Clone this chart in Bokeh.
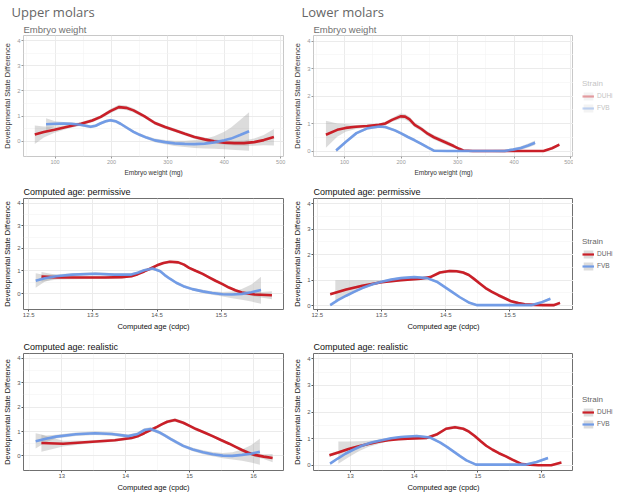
from bokeh.plotting import figure
from bokeh.models import (Range1d, FixedTicker, Title, Legend, LegendItem)
from bokeh.layouts import row, column
from bokeh.embed import file_html
from bokeh.resources import INLINE

# ---------------- data ----------------
STRAINS = ["DUHi", "FVB"]
Y_TICKS = [0, 1, 2, 3, 4]
Y_MINOR = [0.5, 1.5, 2.5, 3.5]
W_TICKS = [100, 200, 300, 400, 500]
W_MINOR = [50, 150, 250, 350, 450]
P_TICKS = [12.5, 13.5, 14.5, 15.5]
P_MINOR = [13.0, 14.0, 15.0, 16.0]
R_TICKS = [13, 14, 15, 16]
R_MINOR = [12.5, 13.5, 14.5, 15.5]

# Upper molars - embryo weight
A_red_x = [64, 80, 99, 120, 146, 166, 181, 198, 213, 226, 239, 258, 277, 295, 312, 330, 347, 365, 382, 400, 418, 435, 453, 470, 488]
A_red_y = [0.27, 0.37, 0.46, 0.57, 0.70, 0.83, 0.97, 1.2, 1.36, 1.33, 1.23, 1.0, 0.73, 0.57, 0.44, 0.3, 0.17, 0.08, 0.0, -0.05, -0.07, -0.07, -0.03, 0.05, 0.17]
A_red_hi = [0.63, 0.59, 0.58, 0.65, 0.77, 0.90, 1.04, 1.28, 1.45, 1.42, 1.31, 1.07, 0.80, 0.64, 0.51, 0.37, 0.24, 0.15, 0.08, 0.03, 0.02, 0.03, 0.11, 0.25, 0.49]
A_red_lo = [-0.1, 0.15, 0.34, 0.49, 0.63, 0.76, 0.9, 1.12, 1.27, 1.24, 1.15, 0.93, 0.66, 0.5, 0.37, 0.23, 0.1, 0.01, -0.08, -0.13, -0.16, -0.17, -0.17, -0.15, -0.16]
A_blue_x = [84, 100, 115, 128, 145, 163, 172, 181, 190, 198, 207, 216, 228, 239, 250, 262, 277, 295, 312, 330, 347, 365, 382, 400, 412, 428, 444]
A_blue_y = [0.68, 0.70, 0.71, 0.70, 0.66, 0.58, 0.62, 0.72, 0.80, 0.84, 0.80, 0.70, 0.53, 0.38, 0.26, 0.15, 0.04, -0.03, -0.08, -0.1, -0.11, -0.09, -0.04, 0.04, 0.11, 0.25, 0.40]
A_blue_hi = [0.92, 0.8, 0.77, 0.76, 0.72, 0.64, 0.68, 0.78, 0.86, 0.90, 0.86, 0.76, 0.59, 0.44, 0.32, 0.21, 0.11, 0.05, 0.02, 0.02, 0.05, 0.1, 0.2, 0.38, 0.55, 0.85, 1.16]
A_blue_lo = [0.42, 0.6, 0.65, 0.64, 0.6, 0.52, 0.56, 0.66, 0.74, 0.78, 0.74, 0.64, 0.47, 0.32, 0.2, 0.09, -0.03, -0.11, -0.18, -0.22, -0.26, -0.28, -0.29, -0.31, -0.33, -0.35, -0.37]

# Lower molars - embryo weight
B_red_x = [67, 87, 102, 120, 140, 161, 172, 184, 199, 207, 215, 224, 236, 247, 258, 270, 282, 293, 303, 310, 327, 360, 400, 430, 452, 467, 480]
B_red_y = [0.59, 0.77, 0.84, 0.88, 0.91, 0.95, 1.0, 1.13, 1.26, 1.25, 1.15, 0.95, 0.8, 0.63, 0.5, 0.39, 0.28, 0.18, 0.08, 0.02, 0.0, 0.0, 0.0, 0.0, 0.0, 0.1, 0.23]
B_red_hi = [1.1, 1.0, 0.98, 0.95, 0.96, 1.0, 1.06, 1.2, 1.36, 1.35, 1.25, 1.04, 0.88, 0.71, 0.58, 0.47, 0.36, 0.25, 0.13, 0.05, 0.03, 0.03, 0.03, 0.03, 0.03, 0.14, 0.28]
B_red_lo = [0.12, 0.52, 0.7, 0.8, 0.86, 0.9, 0.94, 1.06, 1.16, 1.15, 1.05, 0.86, 0.72, 0.55, 0.42, 0.31, 0.2, 0.11, 0.03, -0.01, -0.03, -0.03, -0.03, -0.03, -0.03, 0.06, 0.18]
B_blue_x = [85, 102, 121, 141, 161, 172, 189, 200, 212, 224, 235, 247, 258, 281, 320, 360, 383, 398, 412, 425, 437]
B_blue_y = [0.02, 0.33, 0.65, 0.83, 0.89, 0.87, 0.75, 0.64, 0.51, 0.39, 0.27, 0.13, 0.01, 0.0, 0.0, 0.0, 0.0, 0.05, 0.11, 0.2, 0.3]
B_blue_hi = [0.08, 0.38, 0.7, 0.88, 0.94, 0.92, 0.8, 0.69, 0.56, 0.44, 0.32, 0.18, 0.06, 0.04, 0.04, 0.04, 0.05, 0.1, 0.17, 0.27, 0.38]
B_blue_lo = [-0.04, 0.28, 0.6, 0.78, 0.84, 0.82, 0.7, 0.59, 0.46, 0.34, 0.22, 0.08, -0.04, -0.04, -0.04, -0.04, -0.05, 0.0, 0.05, 0.13, 0.22]

# Upper molars - computed age: permissive
C_red_x = [12.70, 12.95, 13.18, 13.45, 13.69, 13.95, 14.10, 14.20, 14.30, 14.40, 14.50, 14.60, 14.70, 14.83, 14.92, 15.0, 15.10, 15.21, 15.31, 15.41, 15.52, 15.62, 15.72, 15.82, 16.02, 16.29]
C_red_y = [0.75, 0.72, 0.71, 0.71, 0.71, 0.73, 0.77, 0.86, 0.98, 1.11, 1.25, 1.35, 1.41, 1.38, 1.28, 1.14, 1.01, 0.87, 0.72, 0.57, 0.42, 0.27, 0.15, 0.05, -0.04, -0.07]
C_red_hi = [0.95, 0.82, 0.78, 0.77, 0.77, 0.79, 0.83, 0.92, 1.04, 1.17, 1.31, 1.41, 1.47, 1.44, 1.34, 1.2, 1.07, 0.93, 0.78, 0.63, 0.48, 0.33, 0.21, 0.12, 0.05, 0.11]
C_red_lo = [0.53, 0.62, 0.64, 0.65, 0.65, 0.67, 0.71, 0.80, 0.92, 1.05, 1.19, 1.29, 1.35, 1.32, 1.22, 1.08, 0.95, 0.81, 0.66, 0.51, 0.36, 0.21, 0.09, -0.02, -0.13, -0.25]
C_blue_x = [12.61, 12.75, 12.93, 13.18, 13.54, 13.84, 14.10, 14.20, 14.30, 14.43, 14.55, 14.62, 14.70, 14.80, 14.91, 15.05, 15.21, 15.36, 15.52, 15.67, 15.82, 15.97, 16.12]
C_blue_y = [0.57, 0.68, 0.77, 0.84, 0.88, 0.84, 0.84, 0.92, 1.03, 1.11, 0.99, 0.82, 0.66, 0.48, 0.33, 0.2, 0.1, 0.03, -0.03, -0.04, -0.01, 0.06, 0.16]
C_blue_hi = [0.9, 0.82, 0.86, 0.9, 0.94, 0.9, 0.9, 0.98, 1.09, 1.17, 1.05, 0.88, 0.72, 0.54, 0.39, 0.26, 0.17, 0.11, 0.07, 0.1, 0.2, 0.4, 0.75]
C_blue_lo = [0.26, 0.52, 0.68, 0.78, 0.82, 0.78, 0.78, 0.86, 0.97, 1.05, 0.93, 0.76, 0.6, 0.42, 0.27, 0.14, 0.03, -0.05, -0.13, -0.2, -0.27, -0.35, -0.45]

# Lower molars - computed age: permissive
D_red_x = [12.70, 12.95, 13.20, 13.50, 13.80, 14.11, 14.26, 14.41, 14.56, 14.67, 14.77, 14.86, 14.94, 15.03, 15.12, 15.22, 15.32, 15.42, 15.52, 15.63, 15.73, 15.88, 16.03, 16.18, 16.28]
D_red_y = [0.45, 0.63, 0.78, 0.92, 1.0, 1.06, 1.12, 1.30, 1.36, 1.35, 1.30, 1.2, 1.05, 0.87, 0.69, 0.54, 0.41, 0.29, 0.17, 0.1, 0.05, 0.03, 0.02, 0.02, 0.11]
D_red_hi = [0.5, 0.68, 0.83, 0.97, 1.05, 1.11, 1.17, 1.36, 1.42, 1.41, 1.36, 1.26, 1.11, 0.93, 0.75, 0.6, 0.47, 0.35, 0.23, 0.15, 0.1, 0.07, 0.06, 0.07, 0.17]
D_red_lo = [0.4, 0.58, 0.73, 0.87, 0.95, 1.01, 1.07, 1.24, 1.3, 1.29, 1.24, 1.14, 0.99, 0.81, 0.63, 0.48, 0.35, 0.23, 0.11, 0.05, 0.0, -0.01, -0.02, -0.03, 0.05]
D_blue_x = [12.70, 12.82, 12.95, 13.08, 13.20, 13.35, 13.50, 13.65, 13.80, 14.01, 14.21, 14.36, 14.51, 14.62, 14.72, 14.87, 14.99, 15.3, 15.6, 15.83, 15.98, 16.13]
D_blue_y = [0.02, 0.22, 0.39, 0.55, 0.69, 0.83, 0.94, 1.02, 1.08, 1.12, 1.08, 0.94, 0.69, 0.5, 0.33, 0.11, 0.02, 0.02, 0.02, 0.02, 0.12, 0.27]
D_blue_hi = [0.06, 0.26, 0.43, 0.59, 0.73, 0.87, 0.98, 1.06, 1.12, 1.16, 1.12, 0.98, 0.73, 0.54, 0.37, 0.15, 0.05, 0.05, 0.05, 0.05, 0.16, 0.32]
D_blue_lo = [-0.02, 0.18, 0.35, 0.51, 0.65, 0.79, 0.9, 0.98, 1.04, 1.08, 1.04, 0.9, 0.65, 0.46, 0.29, 0.07, -0.01, -0.01, -0.01, -0.01, 0.08, 0.22]
D_shade_x = [12.78, 12.95, 13.2, 13.45, 13.6]
D_shade_hi = [1.0, 1.0, 1.0, 1.0, 1.0]
D_shade_lo = [0.2, 0.38, 0.65, 0.88, 0.98]

# Upper molars - computed age: realistic
E_red_x = [12.68, 13.02, 13.42, 13.83, 14.09, 14.2, 14.29, 14.39, 14.49, 14.57, 14.65, 14.77, 14.9, 15.0, 15.1, 15.23, 15.36, 15.49, 15.62, 15.72, 15.82, 15.92, 16.02, 16.16, 16.30]
E_red_y = [0.53, 0.50, 0.57, 0.64, 0.73, 0.82, 0.93, 1.06, 1.19, 1.30, 1.40, 1.47, 1.36, 1.23, 1.10, 0.96, 0.81, 0.65, 0.50, 0.37, 0.24, 0.13, 0.04, -0.03, -0.09]
E_red_hi = [0.87, 0.62, 0.63, 0.70, 0.79, 0.88, 0.99, 1.12, 1.25, 1.36, 1.46, 1.54, 1.42, 1.29, 1.16, 1.02, 0.87, 0.71, 0.56, 0.43, 0.31, 0.2, 0.12, 0.07, 0.08]
E_red_lo = [0.17, 0.38, 0.51, 0.58, 0.67, 0.76, 0.87, 1.0, 1.13, 1.24, 1.34, 1.4, 1.3, 1.17, 1.04, 0.9, 0.75, 0.59, 0.44, 0.31, 0.17, 0.06, -0.04, -0.13, -0.26]
E_blue_x = [12.59, 12.75, 12.91, 13.22, 13.52, 13.78, 14.04, 14.19, 14.29, 14.39, 14.52, 14.61, 14.70, 14.8, 14.90, 15.05, 15.21, 15.36, 15.52, 15.67, 15.82, 15.96, 16.10]
E_blue_y = [0.60, 0.70, 0.79, 0.89, 0.93, 0.90, 0.81, 0.90, 1.06, 1.10, 0.97, 0.84, 0.70, 0.55, 0.41, 0.26, 0.15, 0.07, 0.01, 0.0, 0.04, 0.09, 0.17]
E_blue_hi = [0.93, 0.84, 0.87, 0.96, 1.0, 0.97, 0.88, 0.97, 1.13, 1.17, 1.04, 0.91, 0.77, 0.62, 0.48, 0.33, 0.23, 0.16, 0.12, 0.15, 0.26, 0.44, 0.7]
E_blue_lo = [0.3, 0.56, 0.71, 0.82, 0.86, 0.83, 0.74, 0.83, 0.99, 1.03, 0.9, 0.77, 0.63, 0.48, 0.34, 0.19, 0.07, -0.02, -0.1, -0.15, -0.2, -0.27, -0.36]

# Lower molars - computed age: realistic
F_red_x = [12.67, 12.82, 12.97, 13.13, 13.28, 13.44, 13.59, 13.75, 13.90, 14.19, 14.35, 14.50, 14.64, 14.77, 14.86, 14.95, 15.04, 15.13, 15.23, 15.33, 15.44, 15.54, 15.69, 15.95, 16.15, 16.31]
F_red_y = [0.37, 0.49, 0.61, 0.71, 0.80, 0.88, 0.94, 0.98, 1.0, 1.02, 1.15, 1.37, 1.43, 1.37, 1.26, 1.10, 0.91, 0.73, 0.58, 0.45, 0.33, 0.21, 0.04, 0.0, 0.0, 0.1]
F_red_hi = [0.43, 0.54, 0.66, 0.76, 0.85, 0.93, 0.99, 1.03, 1.05, 1.07, 1.2, 1.43, 1.49, 1.43, 1.32, 1.16, 0.97, 0.78, 0.63, 0.5, 0.38, 0.26, 0.08, 0.03, 0.03, 0.15]
F_red_lo = [0.31, 0.44, 0.56, 0.66, 0.75, 0.83, 0.89, 0.93, 0.95, 0.97, 1.1, 1.31, 1.37, 1.31, 1.2, 1.04, 0.85, 0.68, 0.53, 0.4, 0.28, 0.16, 0.0, -0.03, -0.03, 0.05]
F_blue_x = [12.68, 12.80, 12.92, 13.05, 13.18, 13.33, 13.49, 13.64, 13.79, 14.04, 14.25, 14.41, 14.52, 14.62, 14.72, 14.82, 14.97, 15.3, 15.6, 15.74, 15.92, 16.10]
F_blue_y = [0.06, 0.25, 0.43, 0.59, 0.73, 0.85, 0.94, 1.01, 1.06, 1.10, 1.04, 0.85, 0.68, 0.51, 0.34, 0.18, 0.02, 0.02, 0.02, 0.02, 0.12, 0.27]
F_blue_hi = [0.1, 0.29, 0.47, 0.63, 0.77, 0.89, 0.98, 1.05, 1.1, 1.14, 1.08, 0.89, 0.72, 0.55, 0.38, 0.22, 0.05, 0.05, 0.05, 0.05, 0.16, 0.32]
F_blue_lo = [0.02, 0.21, 0.39, 0.55, 0.69, 0.81, 0.9, 0.97, 1.02, 1.06, 1.0, 0.81, 0.64, 0.47, 0.3, 0.14, -0.01, -0.01, -0.01, -0.01, 0.08, 0.22]
F_shade_x = [12.81, 12.97, 13.13, 13.28, 13.44, 13.59]
F_shade_hi = [0.89, 0.89, 0.9, 0.92, 0.96, 0.99]
F_shade_lo = [0.05, 0.3, 0.52, 0.68, 0.8, 0.9]

# ---------------- styling ----------------
RED = "#c8141e"
BLUE = "#6b98e6"
BAND = "#9a9a9a"
BAND_ALPHA = 0.35
LINE_W = 2.6
FONT = "Liberation Sans"


def panel(w, h, xr, yr, xt, xm, xlabel, title, faded, mbr,
          red, blue, shade=None, header=None):
    p = figure(width=w, height=h, output_backend="svg", toolbar_location=None,
               x_range=Range1d(*xr), y_range=Range1d(*yr),
               min_border_left=3, min_border_right=mbr,
               min_border_top=(0 if header else 6), min_border_bottom=0,
               background_fill_color="white", border_fill_color="white")
    p.outline_line_color = "#c8c8c8" if faded else "#707070"
    tick_col = "#9a9a9a" if faded else "#555555"
    lab_col = "#333333" if faded else "#111111"
    p.xaxis.ticker = FixedTicker(ticks=xt, minor_ticks=xm)
    p.yaxis.ticker = FixedTicker(ticks=Y_TICKS, minor_ticks=Y_MINOR)
    for ax in (p.xaxis[0], p.yaxis[0]):
        ax.axis_line_color = None
        ax.major_tick_in = 0
        ax.major_tick_out = 2
        ax.minor_tick_out = 0
        ax.minor_tick_in = 0
        ax.major_tick_line_color = tick_col
        ax.major_label_text_font = FONT
        ax.major_label_text_font_size = "6px"
        ax.major_label_text_color = tick_col
        ax.major_label_standoff = 1
        ax.axis_label_text_font = FONT
        ax.axis_label_text_font_size = "7.5px"
        ax.axis_label_text_font_style = "normal"
        ax.axis_label_text_color = lab_col
        ax.axis_label_standoff = 2
    if faded:
        p.xaxis[0].axis_label_text_font_size = "6.5px"
        p.xaxis[0].major_label_text_font_size = "5.5px"
    p.xaxis.axis_label = xlabel
    p.yaxis.axis_label = "Developmental State Difference"
    for g in (p.xgrid[0], p.ygrid[0]):
        g.grid_line_color = "#ebebeb"
        g.grid_line_width = 1
        g.minor_grid_line_color = "#f3f3f3"
        g.minor_grid_line_width = 0.6

    if header:
        p.title.text = header
        p.title.text_font = "Open Sans"
        p.title.text_font_size = "13px"
        p.title.text_color = "#666666"
        p.title.offset = -12
        p.title.standoff = 0
        p.title.text_font_style = "normal"
        p.add_layout(Title(text=title, text_font=FONT, text_font_style="normal",
                           text_font_size="9.5px", text_color="#707070",
                           standoff=2), "above")
    else:
        p.title.text = title
        p.title.text_font = FONT
        p.title.text_font_style = "normal"
        p.title.text_font_size = "9px"
        p.title.text_color = "#111111"
        p.title.standoff = 3

    p.varea(x=red[0], y1=red[3], y2=red[2], fill_color=BAND, fill_alpha=BAND_ALPHA)
    p.varea(x=blue[0], y1=blue[3], y2=blue[2], fill_color=BAND, fill_alpha=BAND_ALPHA)
    if shade is not None:
        p.varea(x=shade[0], y1=shade[2], y2=shade[1], fill_color=BAND, fill_alpha=BAND_ALPHA)
    p.line(red[0], red[1], line_color=RED, line_width=LINE_W, line_alpha=0.95)
    p.line(blue[0], blue[1], line_color=BLUE, line_width=LINE_W, line_alpha=0.95)
    return p


def legend_panel(w, h, faded, top, red, blue):
    # the series are drawn here outside the visible range; only their legend keys show
    lf = figure(width=w, height=h, output_backend="svg", toolbar_location=None,
                title=None, x_range=Range1d(0, 1), y_range=Range1d(0, 1),
                x_axis_type=None, y_axis_type=None,
                min_border_left=0, min_border_right=0, min_border_top=top, min_border_bottom=0,
                background_fill_color="white", border_fill_color="white")
    lf.outline_line_color = None
    la = 0.4 if faded else 0.95
    ba = 0.12 if faded else BAND_ALPHA
    txt = "#c4c4c4" if faded else "#666666"
    items = []
    for name, col, s in zip(STRAINS, (RED, BLUE), (red, blue)):
        rb = lf.varea(x=s[0], y1=s[3], y2=s[2], fill_color=BAND, fill_alpha=ba)
        rl = lf.line(x=s[0], y=s[1], line_color=col, line_width=2.2, line_alpha=la)
        items.append(LegendItem(label=name, renderers=[rb, rl]))
    leg = Legend(items=items, title="Strain", location="left")
    leg.title_text_font = FONT
    leg.title_text_font_size = "8px"
    leg.title_text_font_style = "normal"
    leg.title_text_color = txt
    leg.title_standoff = 3
    leg.label_text_font = FONT
    leg.label_text_font_size = "6.5px"
    leg.label_text_color = txt
    leg.glyph_width = 12
    leg.glyph_height = 10
    leg.label_height = 10
    leg.label_standoff = 3
    leg.spacing = 2
    leg.padding = 0
    leg.margin = 9
    leg.border_line_color = None
    leg.background_fill_alpha = 0
    lf.add_layout(leg)
    return lf


LW, RW, GW = 290, 283, 41
H1, H2, H3 = 178, 155, 161

A_red = (A_red_x, A_red_y, A_red_hi, A_red_lo)
A_blue = (A_blue_x, A_blue_y, A_blue_hi, A_blue_lo)
B_red = (B_red_x, B_red_y, B_red_hi, B_red_lo)
B_blue = (B_blue_x, B_blue_y, B_blue_hi, B_blue_lo)
C_red = (C_red_x, C_red_y, C_red_hi, C_red_lo)
C_blue = (C_blue_x, C_blue_y, C_blue_hi, C_blue_lo)
D_red = (D_red_x, D_red_y, D_red_hi, D_red_lo)
D_blue = (D_blue_x, D_blue_y, D_blue_hi, D_blue_lo)
E_red = (E_red_x, E_red_y, E_red_hi, E_red_lo)
E_blue = (E_blue_x, E_blue_y, E_blue_hi, E_blue_lo)
F_red = (F_red_x, F_red_y, F_red_hi, F_red_lo)
F_blue = (F_blue_x, F_blue_y, F_blue_hi, F_blue_lo)

pA = panel(LW, H1, (44, 505), (-0.6, 4.2), W_TICKS, W_MINOR, "Embryo weight (mg)",
           "Embryo weight", True, 7, A_red, A_blue, header="Upper molars")
pB = panel(RW, H1, (45, 505), (-0.2, 4.2), W_TICKS, W_MINOR, "Embryo weight (mg)",
           "Embryo weight", True, 0, B_red, B_blue, header="Lower molars")
pC = panel(LW, H2, (12.42, 16.47), (-0.7, 4.2), P_TICKS, P_MINOR, "Computed age (cdpc)",
           "Computed age: permissive", False, 7, C_red, C_blue)
pD = panel(RW, H2, (12.44, 16.49), (-0.15, 4.2), P_TICKS, P_MINOR, "Computed age (cdpc)",
           "Computed age: permissive", False, 0, D_red, D_blue,
           shade=(D_shade_x, D_shade_hi, D_shade_lo))
pE = panel(LW, H3, (12.40, 16.47), (-0.6, 4.2), R_TICKS, R_MINOR, "Computed age (cpdc)",
           "Computed age: realistic", False, 7, E_red, E_blue)
pF = panel(RW, H3, (12.42, 16.5), (-0.2, 4.2), R_TICKS, R_MINOR, "Computed age (cpdc)",
           "Computed age: realistic", False, 0, F_red, F_blue,
           shade=(F_shade_x, F_shade_hi, F_shade_lo))

gB = legend_panel(GW, H1, True, 12, B_red, B_blue)
gD = legend_panel(GW, H2, False, 20, D_red, D_blue)
gF = legend_panel(GW, H3, False, 20, F_red, F_blue)

layout = column(row(pA, pB, gB), row(pC, pD, gD), row(pE, pF, gF))
open("out.html", "w").write(file_html(layout, INLINE))
